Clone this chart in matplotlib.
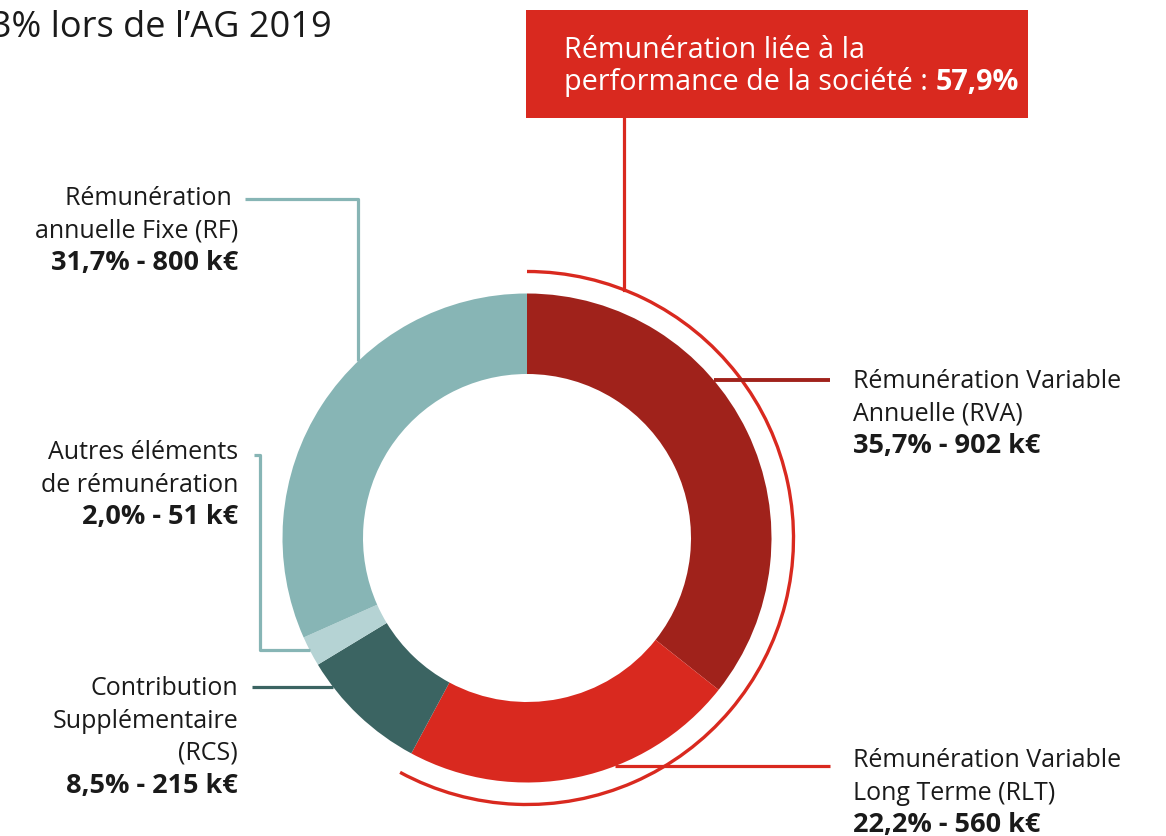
import matplotlib
matplotlib.use('Agg')
import matplotlib.pyplot as plt
from matplotlib.patches import Arc, Rectangle
import numpy as np

# data
labels = ['Rémunération Variable\nAnnuelle (RVA)',
          'Rémunération Variable\nLong Terme (RLT)',
          'Contribution\nSupplémentaire\n(RCS)',
          'Autres éléments\nde rémunération',
          'Rémunération \nannuelle Fixe (RF)']
shares = [35.7, 22.2, 8.5, 2.0, 31.7]
amounts = [902, 560, 215, 51, 800]
colors = ['#A0221B', '#D9291F', '#3B6462', '#B5D3D4', '#87B5B5']
perf_share = 57.9
box_text = 'Rémunération liée à la\nperformance de la société : '
top_text = '3% lors de l\u2019AG 2019'

W, H = 1166, 836
CX, CY = 527, 538      # donut centre (pixels from top)
R_OUT, R_IN = 244.5, 164
R_ARC = 266.5

plt.rcParams['font.family'] = ['Open Sans', 'DejaVu Sans']

fig = plt.figure(figsize=(W / 100, H / 100), dpi=100)
ax = fig.add_axes([0, 0, 1, 1])


def py(y):
    """ pixel y (from top) -> data y """
    return H - y


# donut
ax.pie(shares, colors=colors, startangle=90, counterclock=False,
       radius=R_OUT, center=(CX, py(CY)), frame=True,
       wedgeprops=dict(width=R_OUT - R_IN, linewidth=0))

# red arc for the performance part
ax.add_patch(Arc((CX, py(CY)), 2 * R_ARC, 2 * R_ARC,
                 theta1=90 - perf_share * 3.6, theta2=90,
                 color='#D9291F', lw=2.4))


def edge_x(y, r, side):
    return CX + side * np.sqrt(r ** 2 - (y - CY) ** 2)


def edge_y_top(x, r):
    return CY - np.sqrt(r ** 2 - (x - CX) ** 2)


lw = 2.3
# RVA connector
y = 380
ax.plot([edge_x(y, R_OUT, 1), 830], [py(y), py(y)], color=colors[0], lw=2.8,
        solid_capstyle='butt')
# RLT connector
y = 766
ax.plot([edge_x(y, R_OUT, 1), 830], [py(y), py(y)], color=colors[1], lw=lw,
        solid_capstyle='butt')
# RCS connector
y = 687
ax.plot([252, edge_x(y, R_OUT, -1)], [py(y), py(y)], color=colors[2], lw=lw,
        solid_capstyle='butt')
# Autres connector
y = 650
ax.plot([254, 260, 260, edge_x(y, R_OUT, -1)], [py(455), py(455), py(y), py(y)],
        color=colors[4], lw=lw, solid_capstyle='butt')
# RF connector
x = 358
ax.plot([245, x, x], [py(199), py(199), py(edge_y_top(x, R_OUT))],
        color=colors[4], lw=lw, solid_capstyle='butt')

# box + connector
x = 624
ax.plot([x, x], [py(118), py(edge_y_top(x, R_ARC))], color='#D9291F', lw=lw)
ax.add_patch(Rectangle((526, py(118)), 502, 108, color='#D9291F', lw=0))

fs = 18


def label(x, y_base, text, value, ha):
    lines = text.split('\n')
    for i, t in enumerate(lines):
        ax.text(x, py(y_base + i * 32.5), t, ha=ha, va='baseline',
                fontsize=fs, color='#1a1a1a')
    ax.text(x, py(y_base + len(lines) * 32.5), value, ha=ha, va='baseline',
            fontsize=19.5, color='#1a1a1a', fontweight='bold')


def val(i):
    return f'{shares[i]:.1f}'.replace('.', ',') + f'% - {amounts[i]} k€'


label(853, 388, labels[0], val(0), 'left')
label(853, 767, labels[1], val(1), 'left')
label(238, 695, labels[2], val(2), 'right')
label(238, 459, labels[3], val(3), 'right')
label(238, 205, labels[4], val(4), 'right')

# box text
bfs = 20.7
bl = box_text.split('\n')
ax.text(564, py(58), bl[0], ha='left', va='baseline', fontsize=bfs, color='white')
t = ax.text(564, py(90), bl[1], ha='left', va='baseline', fontsize=bfs, color='white')
fig.canvas.draw()
bb = t.get_window_extent()
ax.text(564 + bb.width, py(90), f'{perf_share:.1f}'.replace('.', ',') + '%',
        ha='left', va='baseline', fontsize=bfs, color='white', fontweight='bold')

# title, cut at the left edge as in the source
ax.text(-9, py(37), top_text, ha='left', va='baseline', fontsize=26, color='#1a1a1a')

ax.set_xlim(0, W)
ax.set_ylim(0, H)
ax.set_aspect('equal')
ax.axis('off')

fig.savefig('out.png', dpi=100)
